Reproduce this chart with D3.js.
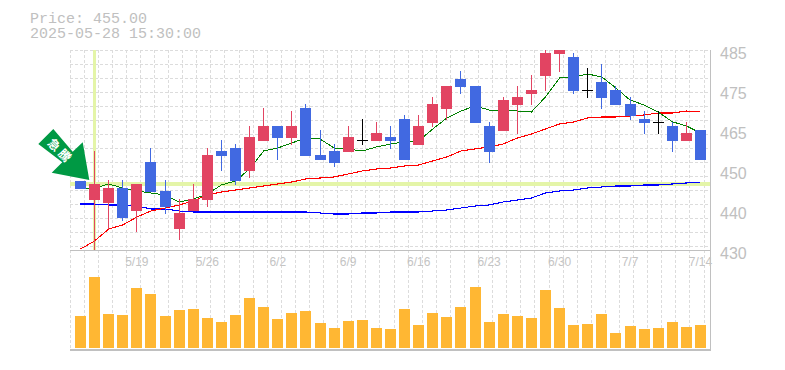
<!DOCTYPE html>
<html><head><meta charset="utf-8">
<script src="https://cdn.jsdelivr.net/npm/d3@7/dist/d3.min.js"></script>
<style>html,body{margin:0;padding:0;background:#fff}svg{display:block}</style>
</head><body><div id="c"></div>
<script>
const dates=["5/13","5/14","5/15","5/16","5/19","5/20","5/21","5/22","5/23","5/26","5/27","5/28","5/29","5/30","6/2","6/3","6/4","6/5","6/6","6/9","6/10","6/11","6/12","6/13","6/16","6/17","6/18","6/19","6/20","6/23","6/24","6/25","6/26","6/27","6/30","7/1","7/2","7/3","7/4","7/7","7/8","7/9","7/10","7/11","7/14"];
const weekTicks=["5/19","5/26","6/2","6/9","6/16","6/23","6/30","7/7","7/14"];
const priceTicks=[430,441,452,463,474,485];
const priceLabels=["430","440","450","465","475","485"];
const opens=[448.98,443.75,442.93,447.05,440.73,454.2,446.23,435.78,440.73,443.75,457.23,458.05,451.73,459.98,464.1,460.8,469.05,456.13,457.23,456.95,460.25,459.98,461.08,466.03,458.88,464.93,468.78,477.03,475.1,464.1,462.73,469.88,472.9,477.85,483.9,483.08,474,476.2,474,470.15,466.03,465.2,464.1,459.98,463];
const closes=[446.78,448.15,447.05,438.8,448.15,445.95,441.83,440.18,444.03,456.13,455.85,448.98,461.08,464.1,460.8,464.1,455.85,454.75,453.93,461.08,460.25,462.18,459.98,454.75,464.1,470.15,475.1,474.83,464.93,456.95,471.25,472.08,474,484.18,485,473.73,474,471.8,469.88,466.85,464.93,465.2,459.98,462.18,454.75];
const highs=[448.98,457.23,449.25,449.25,448.15,458.05,449.25,444.03,448.15,458.05,460.25,459.15,464.1,469.05,464.1,468.23,470.15,463,459.15,464.1,466.03,465.2,464.1,467.13,467.13,472.08,475.1,479.23,475.1,465.2,472.08,475.1,478.13,485,485,484.18,480.05,481.15,475.1,472.08,468.23,468.23,465.2,465.2,463];
const lows=[446.78,430,435.78,437.98,434.95,445.95,439.9,432.75,440.73,441.83,451.73,447.88,449.8,459.98,454.75,458.88,455.85,454.75,452.83,456.95,458.88,459.98,457.78,454.75,458.88,463.83,465.75,472.9,464.93,453.93,462.73,461.9,469.88,473.73,478.95,472.9,471.8,468.78,469.88,465.75,461.9,461.9,456.95,459.98,454.75];
const maShort=[446.78,447.05,448.15,447.05,446.23,445.68,445.13,443.2,444.03,445.4,447.88,448.98,452.28,457.23,458.05,459.43,460.8,460.53,458.05,457.78,457.23,458.33,459.15,459.7,459.98,463.28,466.3,468.23,469.6,468.5,468.5,468.23,467.95,472.08,477.3,477.58,478.4,477.58,474.55,471.25,469.88,467.95,465.28,464.1,462.18];
const maMid=[430.28,432.48,435.78,436.88,439.08,440.73,441.55,442.38,443.48,445.13,445.95,446.5,447.05,447.6,448.15,448.7,449.53,449.8,450.08,450.9,451.73,452.28,452.55,453.1,453.38,454.48,455.58,457.23,457.78,458.33,459.15,460.8,461.9,463.28,464.65,465.2,466.3,466.58,466.58,466.85,467.13,467.68,467.68,468.23,467.95];
const maLong=[442.65,442.65,442.38,442.38,442.1,441.28,441.28,440.73,440.45,440.45,440.45,440.45,440.45,440.45,440.45,440.45,440.45,440.18,439.9,439.9,440.18,440.18,440.45,440.45,440.45,440.73,441,441.55,442.1,442.38,443.2,443.75,444.3,445.68,446.23,446.5,447.05,447.33,447.6,447.6,447.88,447.88,448.15,448.43,448.7];
const volumes=[32,71,34,33,60,54,32,38,39,30,26,33,50,41,29,35,37,25,20,27,28,20,19,39,23,35,31,41,61,26,34,32,30,58,40,23,24,34,15,22,19,20,26,21,23];
const markerPrice=448.15, markerDate="5/14";
const infoLines=["Price: 455.00","2025-05-28 15:30:00"];
const arrowLabel="急騰";

const W=785,H=370;
const svg=d3.select("#c").append("svg").attr("width",W).attr("height",H);
const x=d3.scaleBand().domain(dates).range([73.45,707.5]);
const y=d3.scaleLinear().domain([430,485]).range([250,50]);
const v=d3.scaleLinear().domain([0,98]).range([348,250]);
const cx=d=>x(d)+x.bandwidth()/2;
const bw=11;

// grid
const grid=svg.append("g").attr("stroke","#dcdcdc").attr("stroke-dasharray","3,2").attr("shape-rendering","crispEdges");
d3.range(46).forEach(k=>grid.append("line").attr("x1",70+k*14.09).attr("x2",70+k*14.09).attr("y1",50).attr("y2",350));
d3.range(15).forEach(k=>grid.append("line").attr("x1",70).attr("x2",710).attr("y1",50+k*14.04).attr("y2",50+k*14.04));

// frame
const fr=svg.append("g").attr("stroke","#c0c0c0").attr("shape-rendering","crispEdges");
fr.append("line").attr("x1",70).attr("x2",710).attr("y1",250.5).attr("y2",250.5);
fr.append("line").attr("x1",70).attr("x2",711).attr("y1",350).attr("y2",350).attr("stroke-width",2);
fr.append("line").attr("x1",710.5).attr("x2",710.5).attr("y1",50).attr("y2",351).attr("stroke-width",1.5);

// marker cross
const mk=svg.append("g").attr("fill","#e4f5a8").attr("shape-rendering","crispEdges");
mk.append("rect").attr("x",70).attr("width",640).attr("y",y(markerPrice)-2).attr("height",4);
mk.append("rect").attr("x",Math.floor(cx(markerDate))-1).attr("width",3).attr("y",50).attr("height",200);

// moving averages
const ln=a=>d3.line().x((d,i)=>cx(dates[i])).y(d=>y(d))(a);
[[maLong,"#0000ff",1.1],[maMid,"#ff0000",1.1],[maShort,"#008000",1]].forEach(([a,c,w])=>{
  svg.append("path").attr("d",ln(a)).attr("fill","none").attr("stroke",c).attr("stroke-width",w).attr("shape-rendering","crispEdges");
});

// candles
const colr=i=>closes[i]>opens[i]?"#e24462":closes[i]<opens[i]?"#4169e1":"#000000";
const cg=svg.append("g").attr("shape-rendering","crispEdges");
dates.forEach((d,i)=>{
  const X=Math.floor(cx(d));
  cg.append("line").attr("x1",X+.5).attr("x2",X+.5).attr("y1",y(highs[i])).attr("y2",y(lows[i])).attr("stroke",colr(i)).attr("stroke-width",1);
  if(opens[i]===closes[i]){
    cg.append("rect").attr("x",X-5).attr("width",bw).attr("y",y(opens[i])-.5).attr("height",1).attr("fill",colr(i));
  }else{
    const t=y(Math.max(opens[i],closes[i])),b=y(Math.min(opens[i],closes[i]));
    cg.append("rect").attr("x",X-5).attr("width",bw).attr("y",t).attr("height",b-t).attr("fill",colr(i));
  }
});

// volume
svg.append("g").attr("shape-rendering","crispEdges").selectAll("rect").data(volumes).join("rect")
  .attr("x",(d,i)=>Math.floor(cx(dates[i]))-5).attr("width",bw)
  .attr("y",d=>v(d)).attr("height",d=>v(0)-v(d)).attr("fill","#ffb733");

// axes
const ax=svg.append("g").attr("transform","translate(710,0)")
  .call(d3.axisRight(y).tickValues(priceTicks).tickSize(0).tickPadding(10).tickFormat((d,i)=>priceLabels[i]));
ax.select(".domain").remove();
ax.selectAll("text").attr("font-family","Liberation Sans").attr("font-size",16).attr("fill","#c0c0c0").attr("dy","0.52em");
const bx=svg.append("g").attr("transform","translate(0,250)")
  .call(d3.axisBottom(x).tickValues(weekTicks).tickSize(0).tickPadding(7));
bx.select(".domain").remove();
bx.selectAll("text").attr("font-family","Liberation Sans").attr("font-size",12).attr("fill","#c4c4c4");

// info
svg.selectAll("text.info").data(infoLines).join("text").attr("class","info")
  .attr("x",30).attr("y",(d,i)=>23+i*15).attr("font-family","Liberation Mono").attr("font-size",15).attr("fill","#c0c0c0").text(d=>d);

// arrow
const arrow=[[53.3,129],[72.7,151.7],[82.7,142.3],[89.3,180],[51.7,172.7],[62.3,162.3],[38.3,144]];
svg.append("path").attr("d",d3.line()(arrow)+"Z").attr("fill","#009944");
svg.append("text").attr("transform","translate(60.5,151.2) rotate(45)").attr("text-anchor","middle").attr("dy","0.36em")
  .attr("font-family","Noto Sans CJK JP").attr("font-weight",700).attr("font-size",12).attr("letter-spacing",3).attr("fill","#fff").text(arrowLabel);
</script></body></html>
